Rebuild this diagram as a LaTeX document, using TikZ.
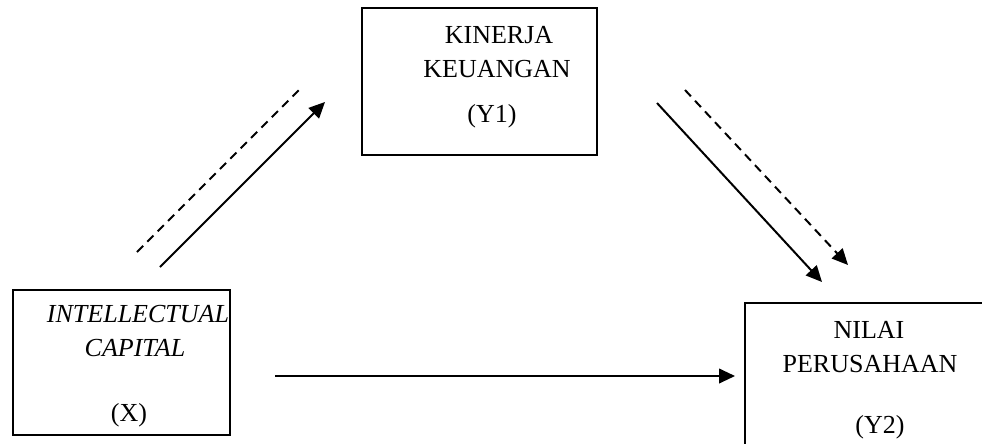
\documentclass[tikz,border=0pt]{standalone}
\usepackage{fontspec}
\setmainfont{Liberation Serif}
\usetikzlibrary{arrows.meta}
\begin{document}
\begin{tikzpicture}[x=0.75pt,y=-0.75pt,
  box/.style={draw=black,line width=1.2pt,rectangle,inner sep=0pt},
  lbl/.style={anchor=base,inner sep=0pt,font=\fontsize{19.5}{23}\selectfont},
  conn/.style={line width=1.5pt,-{Triangle[length=12pt,width=11pt]}},
  dconn/.style={line width=1.5pt,dash pattern=on 6.5pt off 4.5pt},
  dconnh/.style={dconn,-{Triangle[length=12pt,width=11pt]}}]
\useasboundingbox (0,0) rectangle (982,443);
\begin{scope}
\clip (0,0) rectangle (982,443);
\node[box,minimum width=176.25pt,minimum height=110.25pt] (y1) at (479.5,81.5) {};
\node[box,minimum width=162.75pt,minimum height=108.75pt] (x) at (121.5,362.5) {};
\node[box,minimum width=191.25pt,minimum height=125.25pt] (y2) at (872.5,386.5) {};
\end{scope}
% texts
\node[lbl] (y1a) at (499,43) {KINERJA};
\node[lbl] (y1b) at (497,77) {KEUANGAN};
\node[lbl] (y1c) at (492,122) {(Y1)};
\node[lbl] (xa) at (138,322) {\itshape INTELLECTUAL};
\node[lbl] (xb) at (135,356) {\itshape CAPITAL};
\node[lbl] (xc) at (129,421) {(X)};
\node[lbl] (y2a) at (869,338) {NILAI};
\node[lbl] (y2b) at (870,372) {PERUSAHAAN};
\node[lbl] (y2c) at (880,433) {(Y2)};
% connector end points
\coordinate (a1s) at (160,267);
\coordinate (a1e) at (325,102);
\coordinate (d1s) at (137,252);
\coordinate (d1e) at (302,87);
\coordinate (a2s) at (657,103);
\coordinate (a2e) at (822,282);
\coordinate (d2s) at (685,90);
\coordinate (d2e) at (848,265);
\coordinate (hs) at (275,376);
\coordinate (he) at (735,376);
\draw[conn] (a1s) -- (a1e);
\draw[dconn] (d1s) -- (d1e);
\draw[conn] (a2s) -- (a2e);
\draw[dconnh] (d2s) -- (d2e);
\draw[conn] (hs) -- (he);
\end{tikzpicture}
\end{document}
